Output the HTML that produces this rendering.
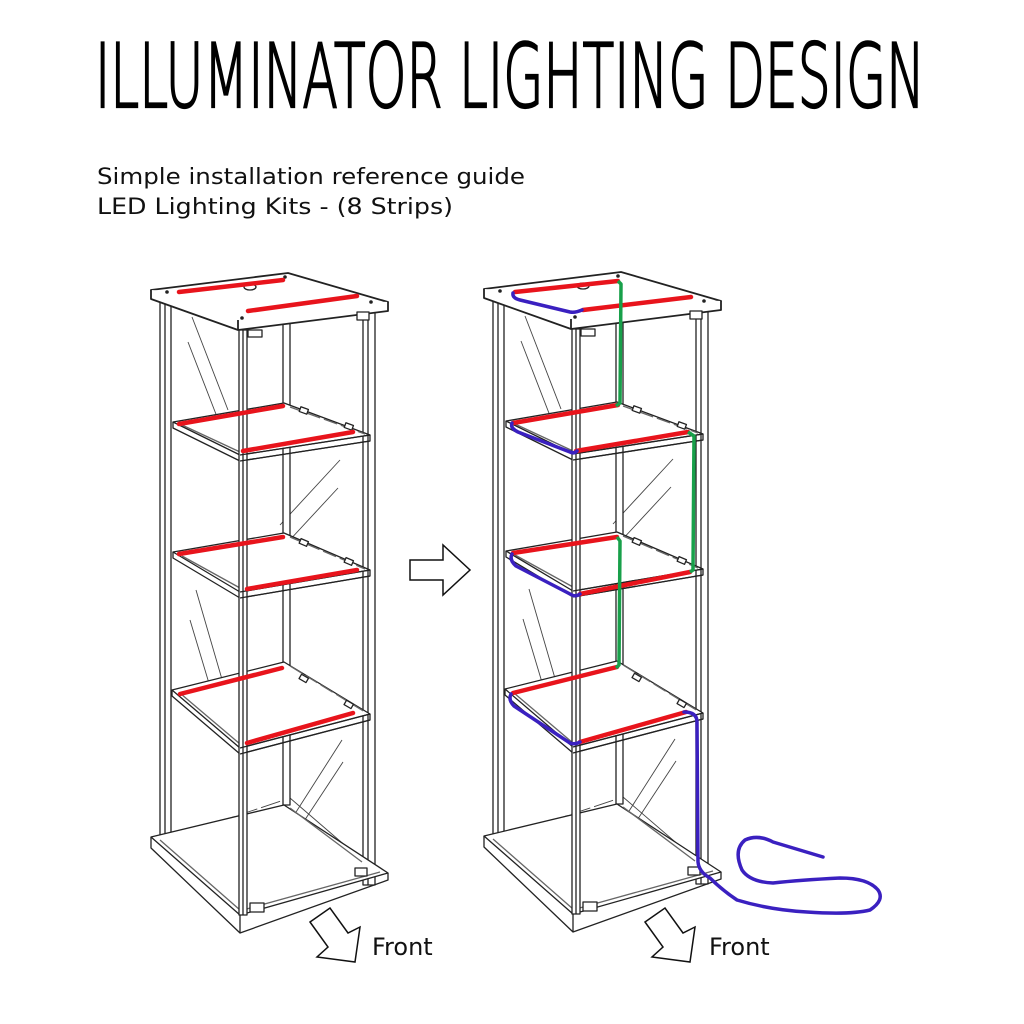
<!DOCTYPE html>
<html><head><meta charset="utf-8"><style>html,body{margin:0;padding:0;background:#fff}svg{display:block}</style></head>
<body>
<svg width="1024" height="1024" viewBox="0 0 1024 1024" xmlns="http://www.w3.org/2000/svg">
<defs>
<g id="cab" fill="none" stroke="#222" stroke-width="1.3" stroke-linejoin="round">
  <g stroke="#444" stroke-width="0.9">
    <line x1="192" y1="317" x2="228" y2="410"/><line x1="188" y1="342" x2="226" y2="440"/>
    <line x1="340" y1="460" x2="280" y2="525"/><line x1="338" y1="488" x2="262" y2="570"/>
    <line x1="196" y1="590" x2="228" y2="700"/><line x1="190" y1="620" x2="220" y2="720"/>
    <line x1="342" y1="740" x2="268" y2="856"/><line x1="343" y1="762" x2="262" y2="885"/>
    <line x1="170" y1="838" x2="284" y2="800" stroke-dasharray="20 4"/>
    <line x1="290" y1="798" x2="362" y2="860"/>
  </g>
  <g fill="#fff">
    <rect x="283" y="280" width="7" height="525"/>
    <rect x="160" y="298" width="11" height="545"/>
    <line x1="165" y1="298" x2="165" y2="843"/>
    <rect x="363" y="310" width="12" height="575"/>
    <line x1="368" y1="310" x2="368" y2="885"/>
  </g>
  <polygon points="173,422 284,403 370,435 240,455" fill="#fff"/>
  <polyline points="173,422 173,428 240,461 370,441 370,435"/>
  <line x1="182" y1="425" x2="240" y2="452" stroke="#666"/>
  <line x1="290" y1="407" x2="365" y2="434" stroke="#666" stroke-dasharray="14 4"/>
  <circle cx="243" cy="466" r="3" fill="#fff"/>
  <rect x="300" y="408" width="8" height="5" transform="rotate(20 304 410)" fill="#fff"/>
  <rect x="345" y="424" width="8" height="5" transform="rotate(20 349 426)" fill="#fff"/>
  <polygon points="173,552 284,533 370,570 240,592" fill="#fff"/>
  <polyline points="173,552 173,558 240,598 370,576 370,570"/>
  <line x1="182" y1="556" x2="240" y2="588" stroke="#666"/>
  <line x1="290" y1="537" x2="365" y2="569" stroke="#666" stroke-dasharray="14 4"/>
  <circle cx="243" cy="603" r="3" fill="#fff"/>
  <rect x="300" y="540" width="8" height="5" transform="rotate(23 304 542)" fill="#fff"/>
  <rect x="345" y="559" width="8" height="5" transform="rotate(23 349 561)" fill="#fff"/>
  <polygon points="172,690 284,662 370,714 240,748" fill="#fff"/>
  <polyline points="172,690 172,696 240,754 370,720 370,714"/>
  <line x1="181" y1="694" x2="240" y2="744" stroke="#666"/>
  <line x1="290" y1="666" x2="365" y2="712" stroke="#666" stroke-dasharray="14 4"/>
  <circle cx="243" cy="759" r="3" fill="#fff"/>
  <rect x="300" y="676" width="8" height="5" transform="rotate(30 304 678)" fill="#fff"/>
  <rect x="345" y="702" width="8" height="5" transform="rotate(30 349 704)" fill="#fff"/>
  <polygon points="151,837 284,805 388,873 240,915" fill="#fff"/>
  <polyline points="151,837 151,848 240,933 388,880 388,873"/>
  <line x1="240" y1="915" x2="240" y2="933"/>
  <line x1="160" y1="840" x2="240" y2="910" stroke="#666"/>
  <line x1="243" y1="910" x2="380" y2="872" stroke="#666"/>
  <line x1="290" y1="808" x2="362" y2="862" stroke="#666"/>
  <rect x="250" y="903" width="14" height="9" fill="#fff"/>
  <rect x="355" y="868" width="12" height="8" fill="#fff"/>
  <rect x="239" y="330" width="8" height="585" fill="#fff"/>
  <line x1="243" y1="330" x2="243" y2="915"/>
  <g>
    <line x1="240" y1="455" x2="370" y2="435"/><line x1="240" y1="461" x2="370" y2="441"/>
    <line x1="240" y1="592" x2="370" y2="570"/><line x1="240" y1="598" x2="370" y2="576"/>
    <line x1="240" y1="748" x2="370" y2="714"/><line x1="240" y1="754" x2="370" y2="720"/>
  </g>
  <polygon points="151,290 288,273 388,302 238,320" fill="#fff" stroke-width="1.8"/>
  <polyline points="151,290 151,299 238,330 388,311 388,302" fill="#fff" stroke-width="1.8"/>
  <line x1="238" y1="320" x2="238" y2="330" stroke-width="1.8"/>
  <ellipse cx="250" cy="287" rx="6" ry="3" fill="#fff"/>
  <g fill="#222" stroke="none"><circle cx="167" cy="292" r="1.8"/><circle cx="285" cy="277" r="1.8"/><circle cx="371" cy="302" r="1.8"/><circle cx="242" cy="318" r="1.8"/></g>
  <rect x="248" y="330" width="14" height="7" fill="#fff"/>
  <rect x="357" y="312" width="12" height="8" fill="#fff"/>
</g>
<g id="arrowF" fill="#fff" stroke="#111" stroke-width="1.5">
  <polygon points="310,922 330,908 348,933 360,927 355,962 317,957 328,947"/>
</g>
</defs>

<text x="95" y="107" font-family="DejaVu Sans, sans-serif" font-weight="200" font-size="88" textLength="830" lengthAdjust="spacingAndGlyphs" fill="#000" stroke="#000" stroke-width="2.2">ILLUMINATOR LIGHTING DESIGN</text>
<text x="97" y="184" font-family="DejaVu Sans, sans-serif" font-size="22" textLength="428" lengthAdjust="spacingAndGlyphs" fill="#111">Simple installation reference guide</text>
<text x="97" y="214" font-family="DejaVu Sans, sans-serif" font-size="22" textLength="356" lengthAdjust="spacingAndGlyphs" fill="#111">LED Lighting Kits - (8 Strips)</text>

<use href="#cab"/>
<g stroke="#e8141c" stroke-width="4.5" stroke-linecap="round">
  <line x1="179" y1="292" x2="283" y2="280"/><line x1="248" y1="311" x2="357" y2="296"/>
  <line x1="179" y1="424" x2="283" y2="406"/><line x1="243" y1="451" x2="353" y2="432"/>
  <line x1="179" y1="554" x2="283" y2="537"/><line x1="247" y1="589" x2="357" y2="570"/>
  <line x1="180" y1="694" x2="282" y2="668"/><line x1="247" y1="743" x2="353" y2="713"/>
</g>
<use href="#arrowF"/>
<text x="372" y="955" font-family="DejaVu Sans, sans-serif" font-size="24" fill="#111">Front</text>

<polygon points="410,560 443,560 443,545 470,570 443,595 443,580 410,580" fill="#fff" stroke="#111" stroke-width="1.5"/>

<use href="#cab" transform="translate(333,-1)"/>
<g stroke="#e8141c" stroke-width="4.5" stroke-linecap="round">
  <line x1="515" y1="292" x2="618" y2="281"/><line x1="583" y1="310" x2="691" y2="297"/>
  <line x1="513" y1="423" x2="618" y2="405"/><line x1="576" y1="451" x2="688" y2="432"/>
  <line x1="513" y1="553" x2="617" y2="537"/><line x1="580" y1="594" x2="690" y2="572"/>
  <line x1="513" y1="693" x2="617" y2="667"/><line x1="580" y1="742" x2="686" y2="712"/>
</g>
<g fill="none" stroke="#18a04a" stroke-width="3.5" stroke-linejoin="round">
  <polyline points="618,281 621,284 620,403 616,406"/>
  <polyline points="688,432 694,436 693,570 690,572"/>
  <polyline points="617,537 620,541 619,665 616,668"/>
</g>
<g fill="none" stroke="#3a20c0" stroke-width="3.5" stroke-linejoin="round" stroke-linecap="round">
  <path d="M513,293 Q512,298 520,300 L570,312 Q575,313 582,310"/>
  <path d="M512,423 Q510,428 518,432 L570,452 Q574,454 577,451"/>
  <path d="M512,554 Q509,560 516,566 L572,595 Q576,597 580,594"/>
  <path d="M511,694 Q508,700 514,706 L570,743 Q575,745 580,742"/>
  <path d="M684,712 Q697,712 697,722 L698,862 Q699,872 710,878 Q722,890 737,900 Q770,910 807,912 Q850,915 870,910 Q885,900 878,890 Q868,878 840,878 Q800,880 773,883 Q750,882 742,870 Q733,850 745,840 Q758,834 773,842 Q800,850 823,857"/>
</g>
<use href="#arrowF" transform="translate(335,0)"/>
<text x="709" y="955" font-family="DejaVu Sans, sans-serif" font-size="24" fill="#111">Front</text>
</svg>
</body></html>
